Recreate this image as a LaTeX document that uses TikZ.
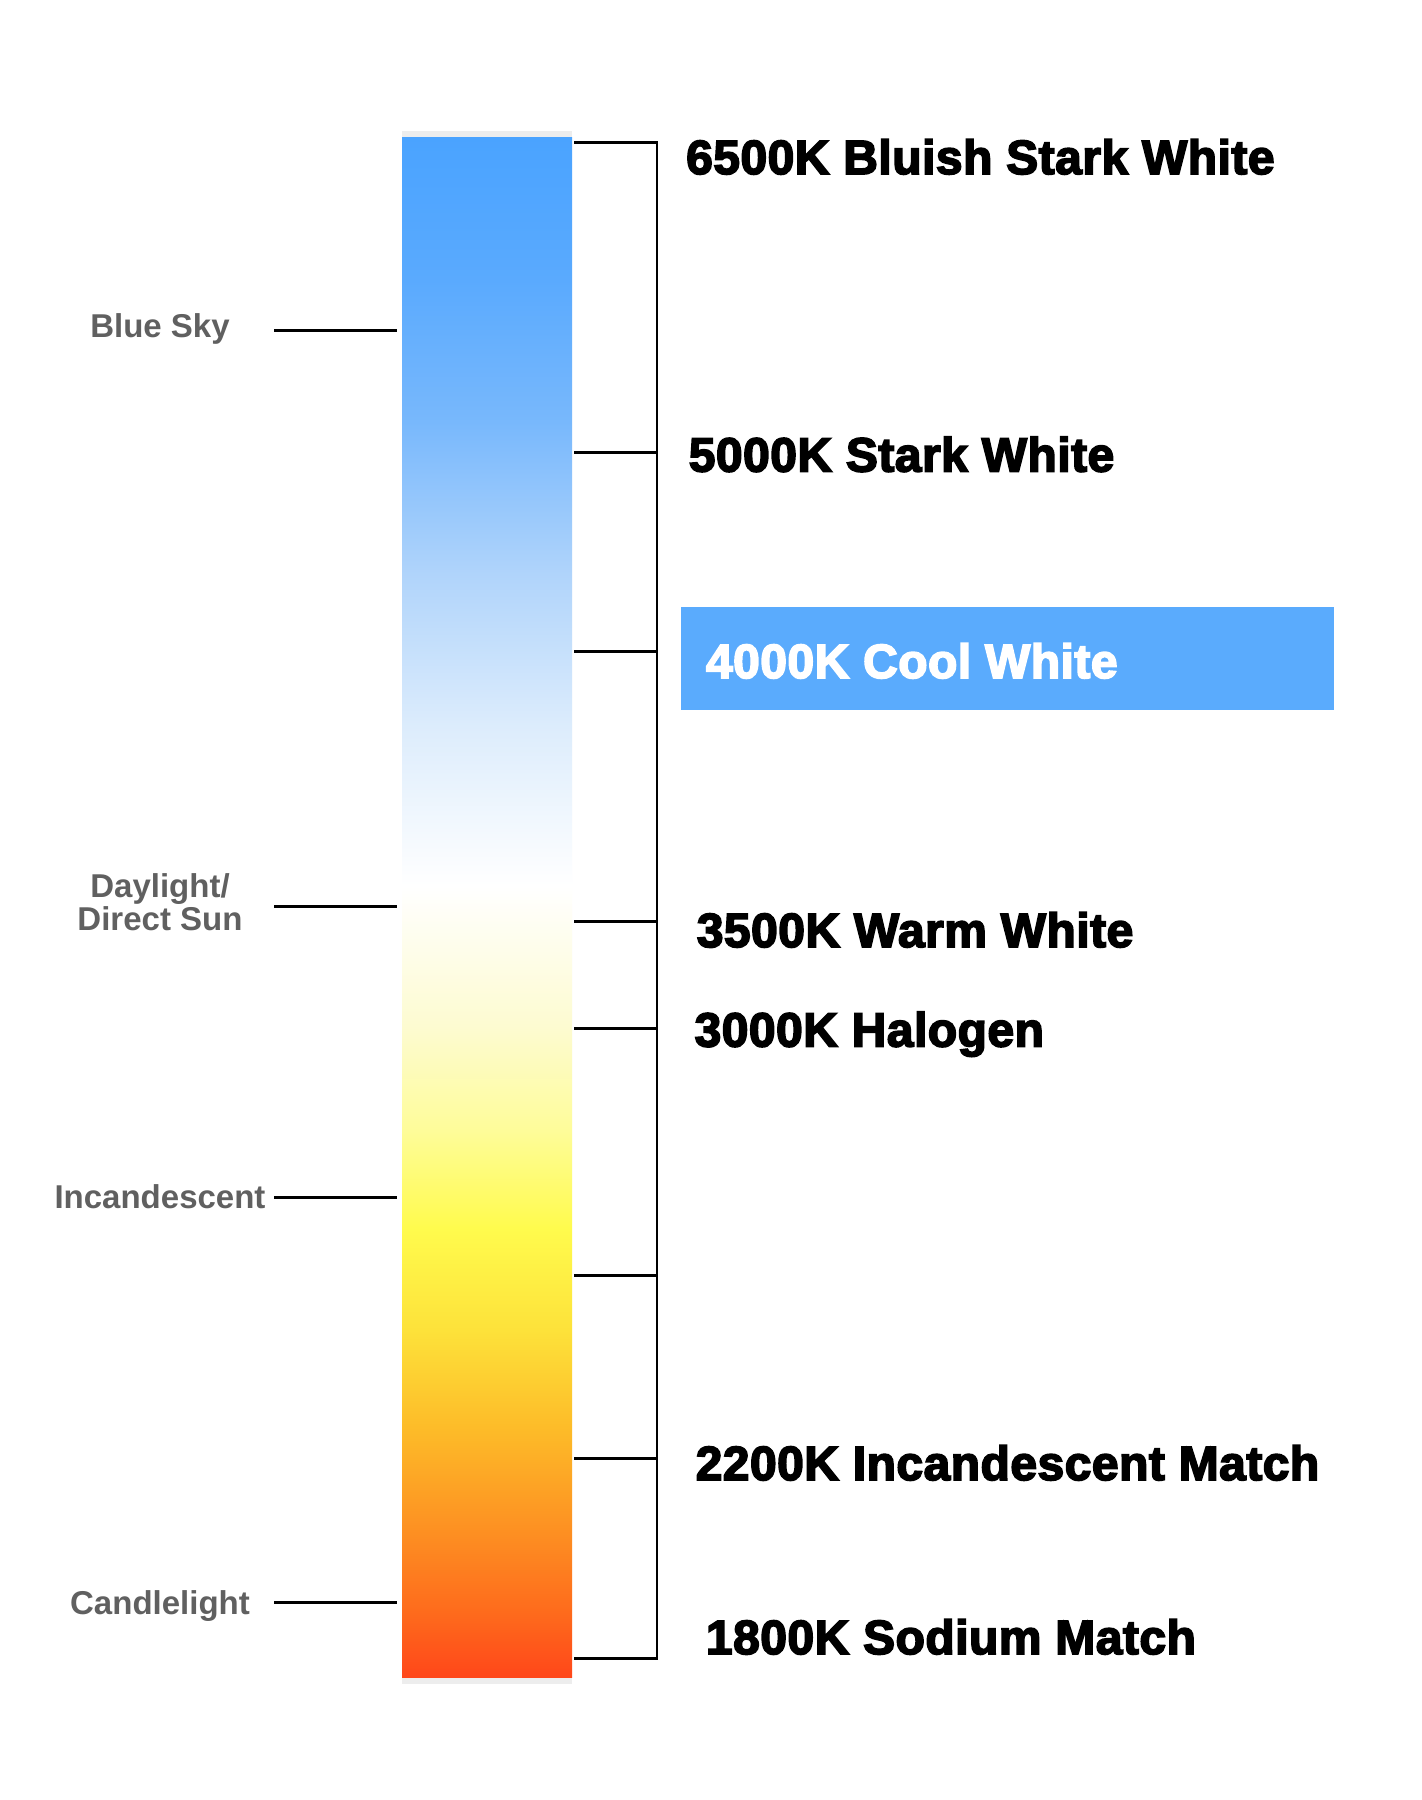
\documentclass[tikz,border=0pt]{standalone}
\usepackage{fontspec}
\setmainfont{Liberation Sans}
\newfontfamily\heavyfont{Liberation Sans}[BoldFeatures={FakeBold=3.5,LetterSpace=1}]
\definecolor{s0}{RGB}{255,71,26}
\definecolor{s1}{RGB}{254,106,28}
\definecolor{s2}{RGB}{253,143,34}
\definecolor{s3}{RGB}{253,186,40}
\definecolor{s4}{RGB}{253,226,58}
\definecolor{s5}{RGB}{255,251,77}
\definecolor{s6}{RGB}{254,252,154}
\definecolor{s7}{RGB}{253,251,208}
\definecolor{s8}{RGB}{255,255,255}
\definecolor{s9}{RGB}{220,236,252}
\definecolor{s10}{RGB}{176,212,251}
\definecolor{s11}{RGB}{120,184,252}
\definecolor{s12}{RGB}{90,170,254}
\definecolor{s13}{RGB}{74,163,255}
\definecolor{boxblue}{RGB}{90,171,253}
\definecolor{labgray}{RGB}{96,96,96}
\pgfdeclareverticalshading{barshade}{100bp}{color(0bp)=(s0); color(25bp)=(s0); color(27.05bp)=(s1); color(29.68bp)=(s2); color(32.95bp)=(s3); color(36.27bp)=(s4); color(39.55bp)=(s5); color(42.79bp)=(s6); color(46.07bp)=(s7); color(50.68bp)=(s8); color(55.88bp)=(s9); color(60.81bp)=(s10); color(65.75bp)=(s11); color(70.36bp)=(s12); color(75bp)=(s13); color(100bp)=(s13)}
\tikzset{
  tick/.style={line width=2.9pt, black},
  rlab/.style={font=\heavyfont\bfseries\fontsize{48}{52}\selectfont, text=black, inner sep=0, anchor=base west},
  llab/.style={font=\bfseries\fontsize{33}{33}\selectfont, text=labgray, inner sep=0, anchor=base, align=center},
}
\begin{document}
\begin{tikzpicture}[x=1pt,y=-1pt]
\useasboundingbox (0,0) rectangle (1422,1800);
\fill[white] (0,0) rectangle (1422,1800);
% shadow and bar
\fill[black!7] (402,131) rectangle (572,1684);
\node[inner sep=0, outer sep=0, minimum width=170pt, minimum height=1540pt, shading=barshade, anchor=north west] (bar) at (402,137) {};
% bracket coordinates
\coordinate (a1) at (574,142.3);  \coordinate (b1) at (657,142.3);
\coordinate (a2) at (574,452.2);  \coordinate (b2) at (657,452.2);
\coordinate (a3) at (574,651.9);  \coordinate (b3) at (657,651.9);
\coordinate (a4) at (574,921.6);  \coordinate (b4) at (657,921.6);
\coordinate (a5) at (574,1028.3); \coordinate (b5) at (657,1028.3);
\coordinate (a6) at (574,1275.1); \coordinate (b6) at (657,1275.1);
\coordinate (a7) at (574,1458.7); \coordinate (b7) at (657,1458.7);
\coordinate (a8) at (574,1658.4); \coordinate (b8) at (657,1658.4);
\draw[tick] (a1) -- (b1) -- (b8) -- (a8);
\foreach \i in {2,...,7} \draw[tick] (a\i) -- (b\i);
% left ticks
\coordinate (la1) at (274,330.5);  \coordinate (lb1) at (397,330.5);
\coordinate (la2) at (274,906.7);  \coordinate (lb2) at (397,906.7);
\coordinate (la3) at (274,1197.1); \coordinate (lb3) at (397,1197.1);
\coordinate (la4) at (274,1602.2); \coordinate (lb4) at (397,1602.2);
\foreach \i in {1,...,4} \draw[tick] (la\i) -- (lb\i);
% left labels
\node[llab] (sky) at (160,337) {Blue Sky};
\node[llab] (day1) at (160,897) {Daylight/};
\node[llab] (day2) at (160,930) {Direct Sun};
\node[llab] (inc) at (160,1208) {Incandescent};
\node[llab] (candle) at (160,1614) {Candlelight};
% highlight box
\node[fill=boxblue, inner sep=0, minimum width=653pt, minimum height=103pt, anchor=north west] (cwbox) at (680.6,607) {};
% right labels
\node[rlab] (k6500) at (686,174) {6500K Bluish Stark White};
\node[rlab] (k5000) at (688.6,471.5) {5000K Stark White};
\node[rlab, text=white] (k4000) at (705.8,678) {4000K Cool White};
\node[rlab] (k3500) at (696.6,947) {3500K Warm White};
\node[rlab] (k3000) at (694.4,1046.5) {3000K Halogen};
\node[rlab] (k2200) at (695.5,1480) {2200K Incandescent Match};
\node[rlab] (k1800) at (705.8,1654) {1800K Sodium Match};
\end{tikzpicture}
\end{document}
